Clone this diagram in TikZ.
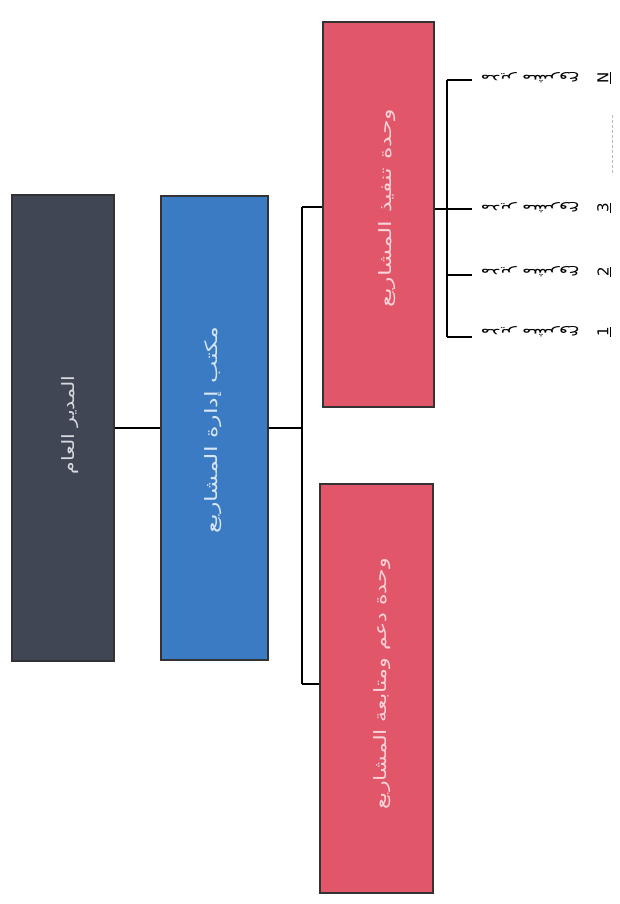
\documentclass[tikz,border=0pt]{standalone}
\usepackage{graphicx}
\usepackage{fontspec}
\newfontfamily\arabicfont[Script=Arabic]{DejaVu Sans}
\newfontfamily\digitfont{DejaVu Sans}
\TeXXeTstate=1
\definecolor{gmc}{HTML}{414654}
\definecolor{pmoc}{HTML}{3B7BC3}
\definecolor{unitc}{HTML}{E2566A}
\definecolor{gmtxt}{HTML}{D5D9E0}
\definecolor{pmotxt}{HTML}{D8E6F5}
\definecolor{unittxt}{HTML}{F8D3D8}
\begin{document}
\begin{tikzpicture}[x=1pt,y=-1pt,
  box/.style={draw=black!80, line width=1.1pt, inner sep=0pt},
  boxtext/.style={rotate=90, font=\arabicfont\fontsize{17}{19}\selectfont, inner sep=0pt},
  conn/.style={draw=black, line width=1.3pt},
  itemtext/.style={rotate=180, font=\arabicfont\fontsize{12.5}{14}\selectfont, inner sep=0pt},
  itemnum/.style={rotate=90, font=\digitfont\fontsize{15}{17}\selectfont, inner sep=0pt}]
\useasboundingbox (0,0) rectangle (620,904);
\fill[white] (0,0) rectangle (620,904);

% boxes
\node[box, fill=gmc, minimum width=102pt, minimum height=466pt] (gm) at (63,428) {};
\node[boxtext, text=gmtxt] (gmt) at (70,425) {\scalebox{1.2}[1]{\beginR المدير العام\endR}};

\node[box, fill=pmoc, minimum width=107pt, minimum height=464pt] (pmo) at (214.5,428) {};
\node[boxtext, text=pmotxt] (pmot) at (213,430) {\scalebox{1.4}[1]{\beginR مكتب إدارة المشاريع\endR}};

\node[box, fill=unitc, minimum width=111pt, minimum height=385pt] (exec) at (378.5,214.5) {};
\node[boxtext, text=unittxt] (exect) at (387,208) {\scalebox{1.4}[1]{\beginR وحدة تنفيذ المشاريع\endR}};

\node[box, fill=unitc, minimum width=113pt, minimum height=409pt] (sup) at (376.5,688.5) {};
\node[boxtext, text=unittxt] (supt) at (382,684) {\scalebox{1.3}[1]{\beginR وحدة دعم ومتابعة المشاريع\endR}};

% main connectors
\coordinate (bus) at (302,428);
\coordinate (j1) at (302,207);
\coordinate (j2) at (302,684);
\draw[conn] (gm.east) -- (pmo.west);
\draw[conn] (pmo.east) -- (bus);
\draw[conn] (j1) -- (j2);
\draw[conn] (j1) -- (j1 -| exec.west);
\draw[conn] (j2) -- (j2 -| sup.west);

% bracket of project managers
\coordinate (bN) at (447,80);
\coordinate (b3) at (447,209);
\coordinate (b2) at (447,275);
\coordinate (b1) at (447,337);
\coordinate (tN) at (472,80);
\coordinate (t3) at (472,209);
\coordinate (t2) at (472,275);
\coordinate (t1) at (472,337);
\draw[conn] (bN) -- (b1);
\draw[conn] (exec.east |- b3) -- (b3);
\draw[conn] (bN) -- (tN);
\draw[conn] (b3) -- (t3);
\draw[conn] (b2) -- (t2);
\draw[conn] (b1) -- (t1);

% labels
\node[itemtext] (iN) at (530,78) {\scalebox{1.5}[1]{\beginR مدير مشروع\endR}};
\node[itemtext] (i3) at (530,208) {\scalebox{1.5}[1]{\beginR مدير مشروع\endR}};
\node[itemtext] (i2) at (530,272) {\scalebox{1.5}[1]{\beginR مدير مشروع\endR}};
\node[itemtext] (i1) at (530,332) {\scalebox{1.5}[1]{\beginR مدير مشروع\endR}};
\node[itemnum] (nN) at (604,78) {\underline{N}};
\node[itemnum] (n3) at (604,208) {\underline{3}};
\node[itemnum] (n2) at (604,272) {\underline{2}};
\node[itemnum] (n1) at (604,332) {\underline{1}};

% ellipsis
\coordinate (d1) at (612,115);
\coordinate (d2) at (612,175);
\draw[gray!55, densely dashed, line width=0.6pt] (d1) -- (d2);
\end{tikzpicture}
\end{document}
